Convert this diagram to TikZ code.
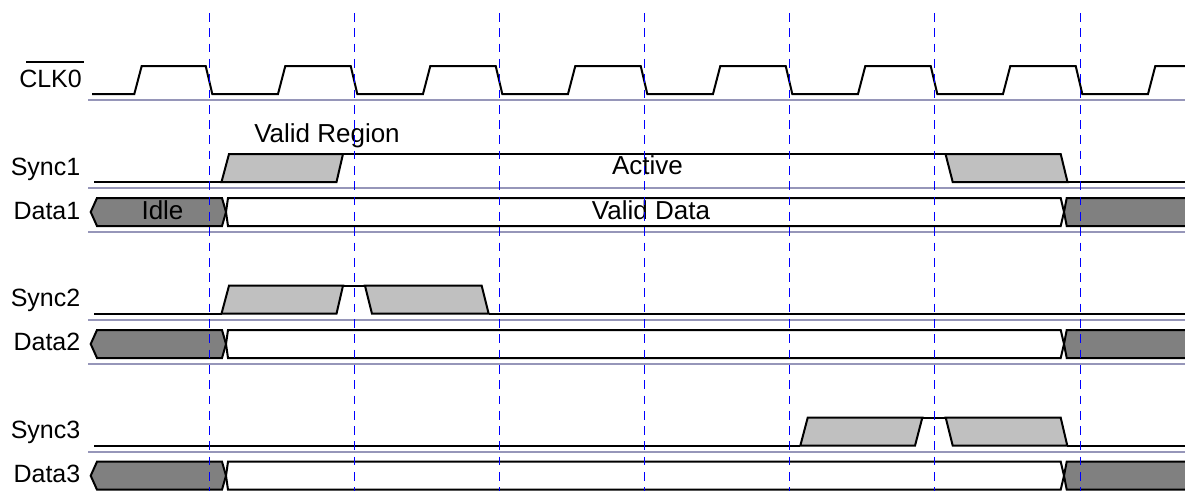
\documentclass[tikz,border=0pt]{standalone}
\usepackage{fontspec}
\setmainfont{Liberation Sans}
\begin{document}
\begin{tikzpicture}[x=1pt,y=-1pt]

\tikzset{signal/.style={draw=black,line width=2pt,line join=miter}}
\tikzset{sep/.style={draw={rgb,255:red,150;green,150;blue,185},line width=2pt}}
\tikzset{grid/.style={draw=blue,line width=1pt,dash pattern=on 8.7pt off 6.6pt}}
\tikzset{valid/.style={signal,fill={rgb,255:red,192;green,192;blue,192}}}
\tikzset{idle/.style={signal,fill={rgb,255:red,128;green,128;blue,128}}}
\tikzset{label/.style={anchor=base east,inner sep=0pt,font=\fontsize{25}{30}\selectfont}}
\tikzset{inner/.style={anchor=base,inner sep=0pt,font=\fontsize{26}{30}\selectfont}}

\useasboundingbox (0,0) rectangle (1185,491);

\path[sep] (88,99.5) -- (1185,99.5);
\path[sep] (88,188) -- (1185,188);
\path[sep] (88,232) -- (1185,232);
\path[sep] (88,320) -- (1185,320);
\path[sep] (88,364) -- (1185,364);
\path[sep] (88,451.7) -- (1185,451.7);

\path[signal] (92,94) -- (134.3,94) -- (141.7,66) -- (205.7,66) -- (212.3,94)
  -- (278,94) -- (285.3,66) -- (350.7,66) -- (357.3,94)
  -- (423,94) -- (430.3,66) -- (495.7,66) -- (502.3,94)
  -- (568,94) -- (575.3,66) -- (640.7,66) -- (647.3,94)
  -- (713,94) -- (720.3,66) -- (785.7,66) -- (792.3,94)
  -- (858,94) -- (865.3,66) -- (930.7,66) -- (937.3,94)
  -- (1003,94) -- (1010.3,66) -- (1075.7,66) -- (1082.3,94)
  -- (1148,94) -- (1155.3,66) -- (1185,66);

\path[signal] (94,182) -- (221.5,182);
\path[signal] (343,154) -- (945.5,154);
\path[signal] (1067.5,182) -- (1185,182);
\path[valid] (221.5,182) -- (229,154) -- (343,154) -- (336.5,182) -- cycle;
\path[valid] (945.5,154) -- (1060.7,154) -- (1067.5,182) -- (952.7,182) -- cycle;

\path[idle] (90.7,212) -- (97,198) -- (222,198) -- (226,212) -- (222,226) -- (97,226) -- cycle;
\path[signal,fill=white] (226,212) -- (228,198) -- (1060.7,198) -- (1064,212) -- (1060.7,226) -- (228,226) -- cycle;
\path[idle] (1185,198) -- (1066.7,198) -- (1064,212) -- (1066.7,226) -- (1185,226);

\path[signal] (94,313.7) -- (221.5,313.7);
\path[signal] (343,285.7) -- (365,285.7);
\path[signal] (488.7,313.7) -- (1185,313.7);
\path[valid] (221.5,313.7) -- (229,285.7) -- (343,285.7) -- (336.5,313.7) -- cycle;
\path[valid] (365,285.7) -- (481.7,285.7) -- (488.7,313.7) -- (372,313.7) -- cycle;

\path[idle] (90.7,344) -- (97,330) -- (222,330) -- (226,344) -- (222,358) -- (97,358) -- cycle;
\path[signal,fill=white] (226,344) -- (228,330) -- (1060.7,330) -- (1064,344) -- (1060.7,358) -- (228,358) -- cycle;
\path[idle] (1185,330) -- (1066.7,330) -- (1064,344) -- (1066.7,358) -- (1185,358);

\path[signal] (94,445.7) -- (800.3,445.7);
\path[signal] (922.3,417.7) -- (945.7,417.7);
\path[signal] (1067.3,445.7) -- (1185,445.7);
\path[valid] (800.3,445.7) -- (807.7,417.7) -- (922.3,417.7) -- (915,445.7) -- cycle;
\path[valid] (945.7,417.7) -- (1060.7,417.7) -- (1067.3,445.7) -- (952.7,445.7) -- cycle;

\path[idle] (90.7,475.7) -- (97,461.7) -- (222,461.7) -- (226,475.7) -- (222,489.7) -- (97,489.7) -- cycle;
\path[signal,fill=white] (226,475.7) -- (228,461.7) -- (1060.7,461.7) -- (1064,475.7) -- (1060.7,489.7) -- (228,489.7) -- cycle;
\path[idle] (1185,461.7) -- (1066.7,461.7) -- (1064,475.7) -- (1066.7,489.7) -- (1185,489.7);

\node[label] (clk) at (82,87) {CLK0};
\node[label] (sync1) at (80.5,175) {Sync1};
\node[label] (data1) at (80.5,219) {Data1};
\node[label] (sync2) at (80.5,306.7) {Sync2};
\node[label] (data2) at (80.5,350.7) {Data2};
\node[label] (sync3) at (80.5,438.5) {Sync3};
\node[label] (data3) at (80.5,482.5) {Data3};
\node[inner] (region) at (327,142.7) {Valid Region};
\node[inner] (active) at (647.5,174.5) {Active};
\node[inner] (idletext) at (162.5,219) {Idle};
\node[inner] (validdata) at (651,219) {Valid Data};

\draw[line width=1.6pt] (26,61.7) -- (84,61.7);

\path[grid] (209,13) -- (209,491);
\path[grid] (354,13) -- (354,491);
\path[grid] (499.5,13) -- (499.5,491);
\path[grid] (644.5,13) -- (644.5,491);
\path[grid] (789.5,13) -- (789.5,491);
\path[grid] (934.5,13) -- (934.5,491);
\path[grid] (1080,13) -- (1080,491);

\end{tikzpicture}
\end{document}
